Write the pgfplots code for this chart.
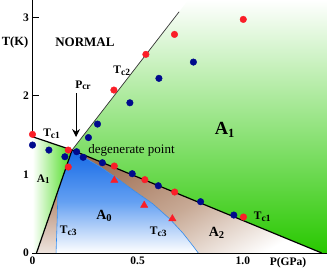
\documentclass[border=0pt]{standalone}
\usepackage{pgfplots}
\pgfplotsset{compat=1.18}
\usetikzlibrary{arrows.meta}
\usepackage{fontspec}
\setmainfont{Liberation Serif}
\definecolor{redpt}{RGB}{250,30,40}
\definecolor{bluept}{RGB}{0,10,140}
\definecolor{grn}{RGB}{40,200,0}
\definecolor{grnL}{RGB}{70,220,25}
\definecolor{blu}{RGB}{20,105,230}
\definecolor{bluM}{RGB}{100,160,242}
\definecolor{brn}{RGB}{160,112,85}
\definecolor{brnM}{RGB}{200,170,150}
\definecolor{brnL}{RGB}{175,130,105}
\definecolor{brnW}{RGB}{238,228,222}
\definecolor{tcblue}{RGB}{50,140,240}
\newcommand{\sub}[2]{\raisebox{-0.3ex}{\fontsize{#1}{#1}\selectfont #2}}
\begin{document}
\begin{tikzpicture}
\begin{axis}[
  at={(0,0)}, anchor=south west,
  scale only axis, width=294.5pt, height=253pt,
  xmin=0, xmax=1.40, ymin=0, ymax=3.22,
  axis x line=bottom, axis y line=left,
  axis line style={-, line width=1.2pt},
  xtick={0,0.5,1.0}, xticklabels={0,0.5,1.0},
  ytick={0,1,2,3},
  tick align=inside, major tick length=7pt,
  tick style={black, line width=1pt},
  tick label style={font=\bfseries\fontsize{11.5}{12}\selectfont},
  /pgf/number format/assume math mode=true,
  clip=false,
]
\coordinate (ll) at (rel axis cs:0,0);
% right green region A1
\addplot[draw=none, top color=white, bottom color=grn] coordinates {(0.188,1.31) (0.697,3.07) (0.740,3.22) (1.40,3.22) (1.40,0) (1.375,0)} -- cycle;
% left A1
\addplot[draw=none, left color=white, right color=grnL] coordinates {(0,0) (0,1.48) (0.188,1.31) (0.019,0)} -- cycle;
% brown sliver
\addplot[draw=none, top color=brnL, bottom color=brnW] coordinates {(0.019,0) (0.121,0.79) (0.117,0.4) (0.112,0)} -- cycle;
% A0 blue
\addplot[draw=none, top color=blu, bottom color=white, middle color=bluM] coordinates {(0.112,0) (0.117,0.4) (0.121,0.79) (0.188,1.31) (0.25,1.21) (0.321,1.098) (0.40,0.955) (0.479,0.80) (0.57,0.63) (0.653,0.433) (0.716,0.25) (0.76,0.10) (0.788,0)} -- cycle;
% A2 brown
\addplot[draw=none, top color=brn, bottom color=white, middle color=brnM, shading angle=30] coordinates {(0.188,1.31) (1.375,0) (0.788,0) (0.76,0.10) (0.716,0.25) (0.653,0.433) (0.57,0.63) (0.479,0.80) (0.40,0.955) (0.321,1.098) (0.25,1.21)} -- cycle;
% lines
\addplot[tcblue, line width=0.6pt] coordinates {(0.112,0) (0.117,0.4) (0.121,0.79)};
\addplot[tcblue, line width=0.6pt] coordinates {(0.188,1.31) (0.25,1.21) (0.321,1.098) (0.40,0.955) (0.479,0.80) (0.57,0.63) (0.653,0.433) (0.716,0.25) (0.76,0.10) (0.788,0)};
\addplot[black, line width=1.2pt] coordinates {(0,1.48) (0.188,1.31) (1.375,0)};
\addplot[black, line width=1.2pt] coordinates {(0.019,0) (0.188,1.31)};
\addplot[black!80, line width=0.7pt] coordinates {(0.188,1.31) (0.697,3.07)};
% markers
\addplot[only marks, mark=*, mark size=3.3pt, redpt, mark options={fill=redpt, draw=redpt}] coordinates {
(0,1.51) (0.170,1.310) (0.170,1.094) (0.389,1.107) (0.534,0.933) (0.676,0.776) (1.003,0.458)
(0.387,2.074) (0.539,2.528) (0.675,2.782) (1.002,2.973)};
\addplot[only marks, mark=*, mark size=3.3pt, bluept, mark options={fill=bluept, draw=bluept}] coordinates {
(0,1.374) (0.078,1.310) (0.154,1.225) (0.210,1.289) (0.241,1.218) (0.266,1.469) (0.309,1.641)
(0.332,1.149) (0.474,1.009) (0.598,0.856) (0.799,0.653) (0.957,0.483)
(0.463,1.912) (0.601,2.223) (0.765,2.430)};
\addplot[only marks, mark=triangle*, mark size=4.2pt, redpt, mark options={fill=redpt, draw=redpt}] coordinates {
(0.389,0.925) (0.531,0.607) (0.665,0.436)};
% texts
\node[font=\bfseries\fontsize{12.5}{13}\selectfont] at (axis cs:-0.083,2.676) {T(K)};
\node[font=\bfseries\fontsize{13}{14}\selectfont] at (axis cs:0.249,2.688) {NORMAL};
\node[font=\bfseries\fontsize{11.5}{12}\selectfont] at (axis cs:0.424,2.319) {T\sub{9.5}{c2}};
\node[font=\bfseries\fontsize{11.5}{12}\selectfont] at (axis cs:0.240,2.137) {P\sub{9.5}{cr}};
\draw[-{Stealth[length=8pt,width=8pt]}, line width=0.9pt] (axis cs:0.207,2.035) -- (axis cs:0.207,1.476);
\node[font=\bfseries\fontsize{11.5}{12}\selectfont] at (axis cs:0.091,1.514) {T\sub{9.5}{c1}};
\node[font=\fontsize{13}{14}\selectfont, anchor=west, inner sep=0pt] at (axis cs:0.265,1.30) {degenerate point};
\node[font=\bfseries\fontsize{18.5}{19}\selectfont] at (axis cs:0.913,1.565) {A\sub{12.5}{1}};
\node[font=\bfseries\fontsize{11.5}{12}\selectfont] at (axis cs:0.051,0.938) {A\sub{9}{1}};
\node[font=\bfseries\fontsize{14}{15}\selectfont] at (axis cs:0.340,0.471) {A\sub{10.5}{0}};
\node[font=\bfseries\fontsize{11.5}{12}\selectfont] at (axis cs:0.170,0.280) {T\sub{9.5}{c3}};
\node[font=\bfseries\fontsize{11.5}{12}\selectfont] at (axis cs:0.598,0.271) {T\sub{9.5}{c3}};
\node[font=\bfseries\fontsize{14}{15}\selectfont] at (axis cs:0.875,0.258) {A\sub{10.5}{2}};
\node[font=\bfseries\fontsize{11.5}{12}\selectfont] at (axis cs:1.092,0.458) {T\sub{9.5}{c1}};
\node[font=\bfseries\fontsize{11.5}{12}\selectfont] at (axis cs:1.215,-0.118) {P(GPa)};
\end{axis}
\pgfresetboundingbox
\path[use as bounding box] (ll) ++(-32.5pt,-20pt) rectangle ++(327pt,273pt);
\end{tikzpicture}
\end{document}
